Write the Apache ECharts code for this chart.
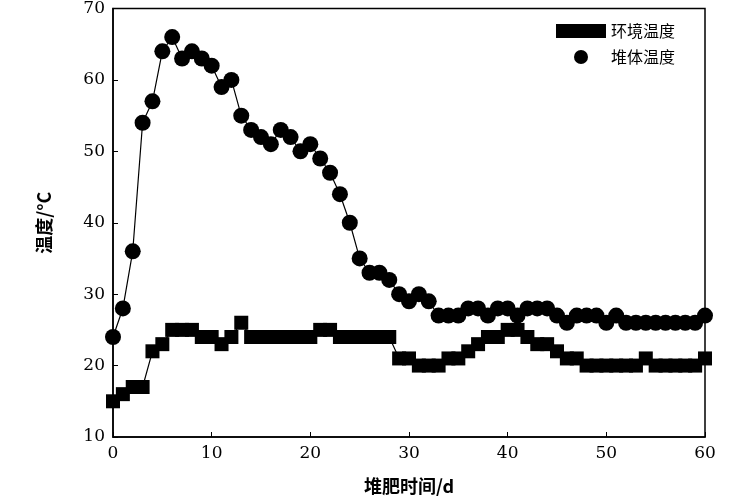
<!DOCTYPE html><html><head><meta charset="utf-8"><script src="https://cdn.jsdelivr.net/npm/echarts@6/dist/echarts.min.js"></script></head><body style="margin:0;background:#fff"><div id="c" style="width:750px;height:500px"></div><script>
const days = Array.from({length:61},(_,i)=>i);
const ambient = [15,16,17,17,22,23,25,25,25,24,24,23,24,26,24,24,24,24,24,24,24,25,25,24,24,24,24,24,24,21,21,20,20,20,21,21,22,23,24,24,25,25,24,23,23,22,21,21,20,20,20,20,20,20,21,20,20,20,20,20,21];
const pile = [24,28,36,54,57,64,66,63,64,63,62,59,60,55,53,52,51,53,52,50,51,49,47,44,40,35,33,33,32,30,29,30,29,27,27,27,28,28,27,28,28,27,28,28,28,27,26,27,27,27,26,27,26,26,26,26,26,26,26,26,27];
const pair = a => a.map((v,i)=>[days[i],v]);
const font = '"Noto Sans CJK SC","DejaVu Sans"';
const ch = echarts.init(document.getElementById('c'));
ch.setOption({
 animation:false,
 textStyle:{fontFamily:font,color:'#000'},
 grid:{left:113,right:45,top:7,bottom:63,show:true,borderColor:'#000',borderWidth:1.5},
 legend:{right:70,top:18,orient:'vertical',itemWidth:50,itemHeight:14,itemGap:10,textStyle:{fontSize:16,fontFamily:font,color:'#000'},
   data:[{name:'环境温度',icon:'rect'},{name:'堆体温度',icon:'circle'}]},
 xAxis:{type:'value',min:0,max:60,interval:10,name:'堆肥时间/d',nameLocation:'middle',nameGap:40,
   nameTextStyle:{fontSize:18,fontWeight:'bold',color:'#000'},
   axisLine:{lineStyle:{color:'#000',width:1.5}},axisTick:{inside:true,lineStyle:{color:'#000'}},
   axisLabel:{fontSize:17,color:'#000',fontFamily:'DejaVu Serif'},splitLine:{show:false}},
 yAxis:{type:'value',min:10,max:70,interval:10,name:'温度/°C',nameLocation:'middle',nameGap:60,
   nameTextStyle:{fontSize:18,fontWeight:'bold',color:'#000'},
   axisLine:{show:true,lineStyle:{color:'#000',width:1.5}},axisTick:{show:true,inside:true,lineStyle:{color:'#000'}},
   axisLabel:{fontSize:17,color:'#000',fontFamily:'DejaVu Serif'},splitLine:{show:false}},
 series:[
  {name:'环境温度',type:'line',data:pair(ambient),symbol:'rect',symbolSize:14,itemStyle:{color:'#000'},lineStyle:{color:'#000',width:1.2}},
  {name:'堆体温度',type:'line',data:pair(pile),symbol:'circle',symbolSize:16,itemStyle:{color:'#000'},lineStyle:{color:'#000',width:1.2}}
 ]
});
</script></body></html>
